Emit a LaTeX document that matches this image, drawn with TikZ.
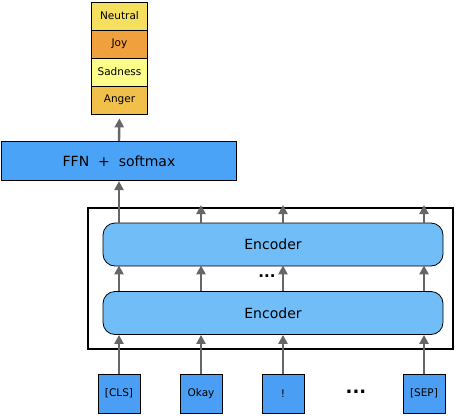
\documentclass[tikz,border=0pt]{standalone}
\usepackage{fontspec}
\setmainfont{DejaVu Sans}
\usetikzlibrary{arrows.meta,positioning}
\definecolor{neutralc}{HTML}{F5DF5E}
\definecolor{joyc}{HTML}{F0A03C}
\definecolor{sadc}{HTML}{FDFD8A}
\definecolor{angerc}{HTML}{F0C04A}
\definecolor{ffnblue}{HTML}{4AA3F7}
\definecolor{tokblue}{HTML}{4A9FF5}
\definecolor{encblue}{HTML}{70BDF8}
\definecolor{arrgray}{HTML}{666666}

\begin{document}
\begin{tikzpicture}[x=1pt, y=-1pt,
    emo/.style={draw, line width=0.8pt, minimum width=56pt, minimum height=28pt, inner sep=0pt, font=\fontsize{10.5}{12}\selectfont},
    tok/.style={draw, line width=0.8pt, fill=tokblue, minimum width=42pt, minimum height=39pt, inner sep=0pt, font=\fontsize{10.5}{12}\selectfont},
    enc/.style={draw, line width=0.8pt, rounded corners=12pt, fill=encblue, minimum width=340pt, minimum height=43pt, font=\fontsize{14}{16}\selectfont},
    arr/.style={-{Triangle[length=9pt, width=9pt]}, line width=2.4pt, arrgray}
]
\useasboundingbox (0,0) rectangle (457,415);

% emotion labels
\node[emo, fill=neutralc] (neutral) at (119.5,16) {Neutral};
\node[emo, fill=joyc] (joy) at (119.5,44) {Joy};
\node[emo, fill=sadc] (sadness) at (119.5,72) {Sadness};
\node[emo, fill=angerc] (anger) at (119.5,100) {Anger};

% classifier
\node[draw, line width=1.2pt, fill=ffnblue, minimum width=235pt, minimum height=39pt, font=\fontsize{14}{16}\selectfont] (ffn) at (119,161) {FFN\ \ +\ \ softmax};

% encoder stack
\node[draw, line width=2pt, minimum width=365pt, minimum height=141pt] (stack) at (270.5,278.5) {};
\node[enc] (enc2) at (273,244.5) {Encoder};
\node[enc] (enc1) at (273,313) {Encoder};
\node[font=\bfseries\fontsize{15}{15}\selectfont] (middots) at (267,276) {...};

% input tokens
\node[tok] (cls) at (119,393.5) {[CLS]};
\node[tok] (okay) at (201,393.5) {Okay};
\node[tok] (excl) at (283,393.5) {!};
\node[tok] (sep) at (424,393.5) {[SEP]};
\node[font=\bfseries\fontsize{18}{18}\selectfont] (tokdots) at (356,392) {...};

\foreach \t in {cls,okay,excl,sep} {
  \draw[arr] (\t.north) -- (\t |- enc1.south);
  \draw[arr] (enc1.north -| \t) -- ([yshift=1pt]enc2.south -| \t);
}
\foreach \t in {okay,excl,sep}
  \draw[arr] (enc2.north -| \t) -- ([yshift=2pt]\t |- stack.north);

\draw[arr] (enc2.north -| cls) -- (ffn.south);
\draw[arr, shorten >=4pt] (ffn.north) -- (anger.south);
\end{tikzpicture}
\end{document}
